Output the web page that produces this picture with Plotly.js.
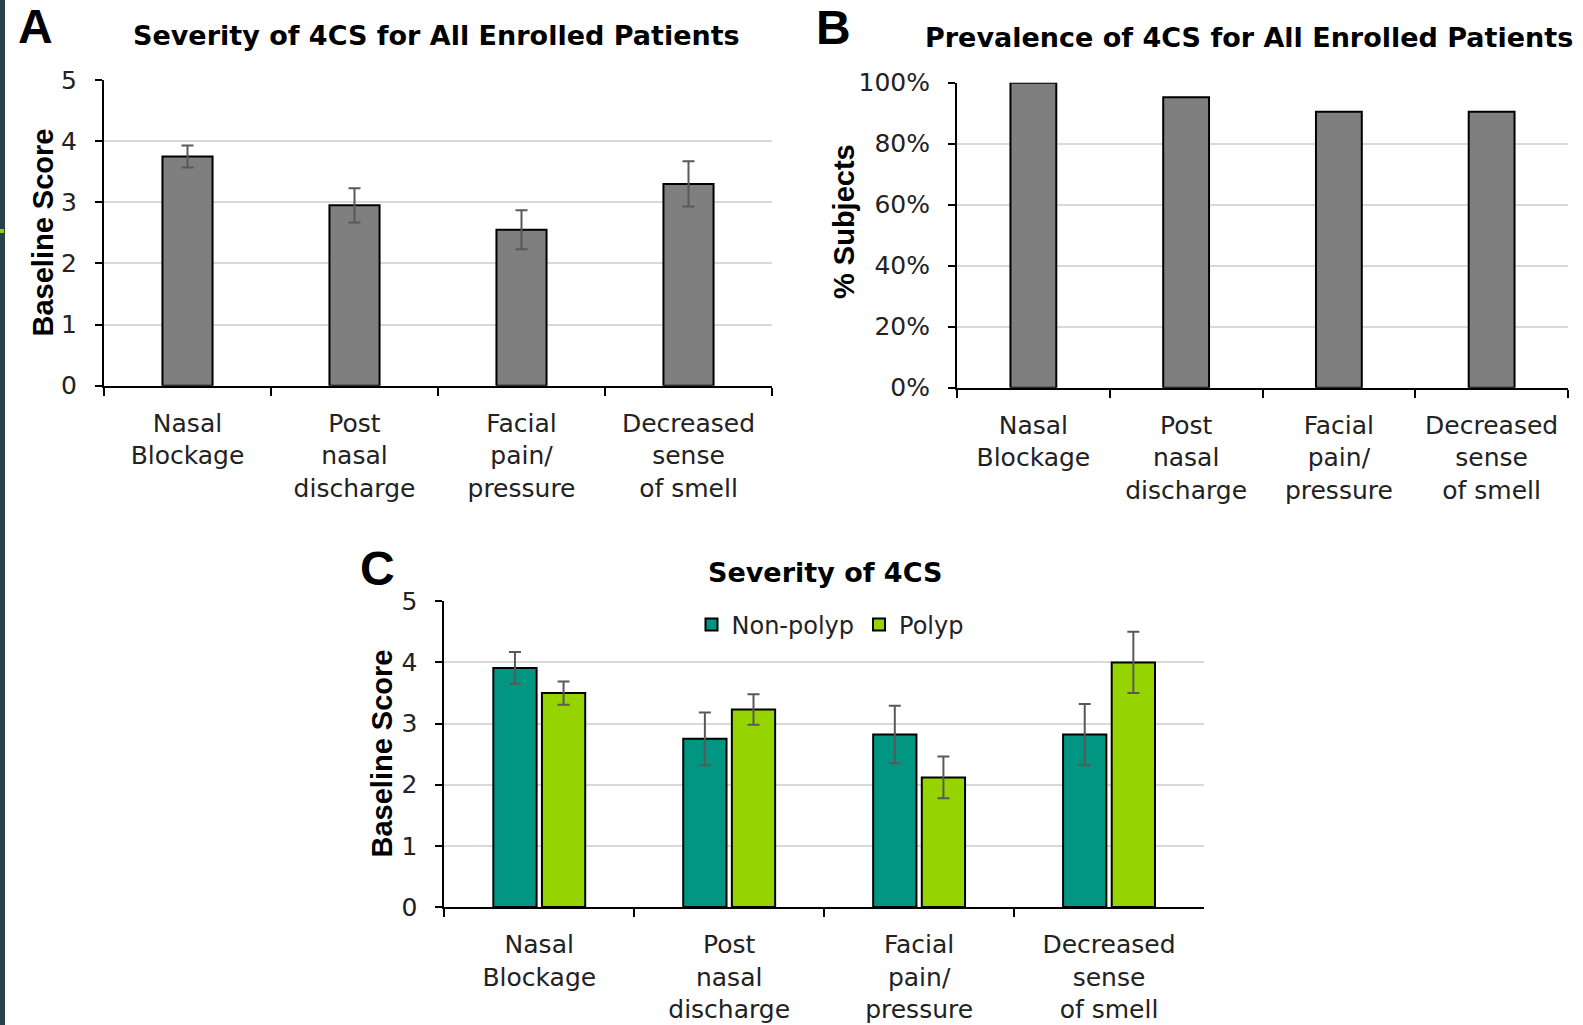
<!DOCTYPE html>
<html>
<head>
<meta charset="utf-8">
<script src="https://cdn.plot.ly/plotly-3.0.1.min.js"></script>
<style>
  html, body { margin: 0; padding: 0; background: #ffffff; }
  #chart { width: 1583px; height: 1025px; }
</style>
</head>
<body>
<div id="chart"></div>
<script>
// ---------------- DATA ----------------
const categories = ["Nasal Blockage", "Post nasal discharge", "Facial pain/pressure", "Decreased sense of smell"];
const tickLabels = ["Nasal<br>Blockage", "Post<br>nasal<br>discharge", "Facial<br>pain/<br>pressure", "Decreased<br>sense<br>of smell"];

// Panel A: severity, all enrolled patients (baseline score, mean and error)
const severityAll = [3.75, 2.95, 2.55, 3.30];
const severityAllErr = [0.18, 0.28, 0.32, 0.37];

// Panel B: prevalence, all enrolled patients (% subjects)
const prevalenceAll = [100, 95.2, 90.5, 90.5];

// Panel C: severity by group
const seriesNames = ["Non-polyp", "Polyp"];
const severityNonPolyp = [3.91, 2.75, 2.82, 2.82];
const severityNonPolypErr = [0.26, 0.43, 0.47, 0.50];
const severityPolyp = [3.50, 3.23, 2.12, 4.00];
const severityPolypErr = [0.19, 0.25, 0.34, 0.50];

const panelTitles = ["Severity of 4CS for All Enrolled Patients", "Prevalence of 4CS for All Enrolled Patients", "Severity of 4CS"];
const panelLetters = ["A", "B", "C"];
const yTitles = ["Baseline Score", "% Subjects", "Baseline Score"];

// ---------------- LAYOUT HELPERS ----------------
const W = 1583, H = 1025;
const px = v => v / W;
const py = v => 1 - v / H;

const GRAY = "#7f7f7f";
const TEAL = "#009682";
const LIME = "#96d400";
const ERRC = "#595959";
const TXT = "#222222";
const TICKFONT = { family: "DejaVu Sans", size: 25, color: TXT };

function errBar(arr) {
  return { type: "data", array: arr, visible: true, color: ERRC, thickness: 2, width: 6 };
}

const traces = [
  {
    type: "bar", x: categories, y: severityAll, xaxis: "x", yaxis: "y",
    width: 0.30, showlegend: false, hoverinfo: "x+y",
    marker: { color: GRAY, line: { color: "#000000", width: 2 } },
    error_y: errBar(severityAllErr)
  },
  {
    type: "bar", x: categories, y: prevalenceAll, xaxis: "x2", yaxis: "y2",
    width: 0.30, showlegend: false, hoverinfo: "x+y",
    marker: { color: GRAY, line: { color: "#000000", width: 2 } }
  },
  {
    type: "bar", name: seriesNames[0], x: categories, y: severityNonPolyp, xaxis: "x3", yaxis: "y3",
    marker: { color: TEAL, line: { color: "#000000", width: 2 } },
    error_y: errBar(severityNonPolypErr)
  },
  {
    type: "bar", name: seriesNames[1], x: categories, y: severityPolyp, xaxis: "x3", yaxis: "y3",
    marker: { color: LIME, line: { color: "#000000", width: 2 } },
    error_y: errBar(severityPolypErr)
  }
];

function xAxis(domain, anchor) {
  return {
    domain: domain, anchor: anchor, type: "category",
    categoryorder: "array", categoryarray: categories,
    tickmode: "array", tickvals: categories, ticktext: tickLabels,
    range: [-0.5, 3.5],
    showline: true, linecolor: "#000000", linewidth: 2,
    ticks: "outside", tickson: "boundaries", ticklen: 8, tickwidth: 2, tickcolor: "#000000",
    showgrid: false, zeroline: false,
    tickfont: TICKFONT, ticklabelstandoff: 14, fixedrange: true
  };
}
function yAxis(domain, anchor, range, dtick, suffix) {
  return {
    domain: domain, anchor: anchor, range: range, dtick: dtick, tick0: 0,
    ticksuffix: suffix || "",
    showline: true, linecolor: "#000000", linewidth: 2,
    ticks: "outside", ticklen: 7, tickwidth: 2, tickcolor: "#000000",
    showgrid: true, gridcolor: "#d9d9d9", gridwidth: 2, zeroline: false,
    tickfont: TICKFONT, ticklabelstandoff: 13, fixedrange: true
  };
}

const titleFont = { family: "DejaVu Sans", size: 27, color: "#000000" };
const letterFont = { family: "Liberation Sans", size: 48, color: "#000000" };
const yTitleFont = { family: "Liberation Sans", size: 29, color: "#000000" };

function ann(text, x, y, font, extra) {
  return Object.assign({
    text: text, xref: "paper", yref: "paper", x: px(x), y: py(y),
    xanchor: "center", yanchor: "middle", showarrow: false, font: font
  }, extra || {});
}

const annotations = [
  ann("<b>" + panelLetters[0] + "</b>", 35.5, 26, letterFont),
  ann("<b>" + panelLetters[1] + "</b>", 834, 27, letterFont),
  ann("<b>" + panelLetters[2] + "</b>", 377, 568, letterFont),
  ann("<b>" + panelTitles[0] + "</b>", 436, 35, titleFont),
  ann("<b>" + panelTitles[1] + "</b>", 1248.5, 37, titleFont),
  ann("<b>" + panelTitles[2] + "</b>", 825, 572, titleFont),
  ann("<b>" + yTitles[0] + "</b>", 42.5, 233, yTitleFont, { textangle: -90 }),
  ann("<b>" + yTitles[1] + "</b>", 844, 222, yTitleFont, { textangle: -90 }),
  ann("<b>" + yTitles[2] + "</b>", 381.5, 754, yTitleFont, { textangle: -90 })
];

const layout = {
  width: W, height: H,
  margin: { l: 0, r: 0, t: 0, b: 0, pad: 0 },
  paper_bgcolor: "#ffffff", plot_bgcolor: "#ffffff",
  barmode: "group", bargap: 0.488, bargroupgap: 0.11,
  font: { family: "DejaVu Sans", color: TXT },
  xaxis: xAxis([px(104), px(772)], "y"),
  yaxis: yAxis([py(385.7), py(80)], "x", [0, 5], 1),
  xaxis2: xAxis([px(957), px(1568)], "y2"),
  yaxis2: yAxis([py(387.7), py(82.7)], "x2", [0, 100], 20, "%"),
  xaxis3: xAxis([px(444.3), px(1204)], "y3"),
  yaxis3: yAxis([py(907), py(601.3)], "x3", [0, 5], 1),
  showlegend: true,
  legend: {
    orientation: "h", x: px(830), xanchor: "center", y: py(625), yanchor: "middle",
    font: { family: "DejaVu Sans", size: 24, color: TXT },
    bgcolor: "rgba(0,0,0,0)", traceorder: "normal", itemclick: false, itemdoubleclick: false
  },
  annotations: annotations,
  shapes: [
    { type: "rect", xref: "paper", yref: "paper", x0: 0, x1: px(5), y0: 0, y1: 1,
      fillcolor: "#2b3f47", line: { width: 0 }, layer: "above" },
    { type: "rect", xref: "paper", yref: "paper", x0: 0, x1: px(4), y0: py(233), y1: py(229),
      fillcolor: "#8fcf1a", line: { width: 0 }, layer: "above" }
  ]
};

Plotly.newPlot("chart", traces, layout, { displayModeBar: false, staticPlot: false, responsive: false });
</script>
</body>
</html>
